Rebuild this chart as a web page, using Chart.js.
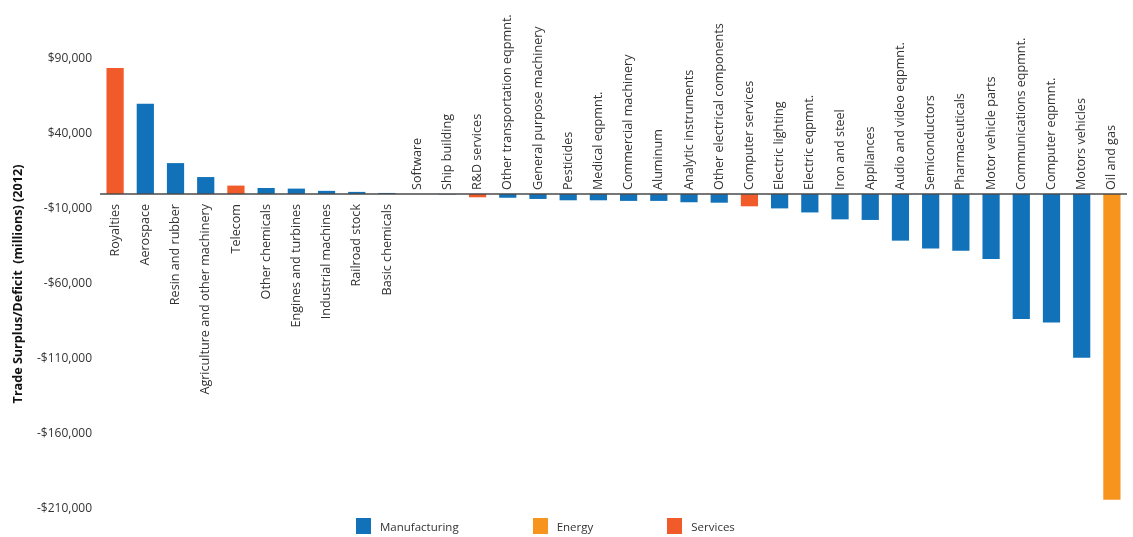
<!DOCTYPE html>
<html>
<head>
<meta charset="utf-8">
<script src="https://cdn.jsdelivr.net/npm/chart.js@4/dist/chart.umd.min.js"></script>
<style>
  html, body { margin: 0; padding: 0; background: #fff; }
  #wrap { position: relative; width: 1133px; height: 537px; }
  #legend { position: absolute; left: 356px; top: 518px; display: flex; gap: 74px;
            font: 11.5px 'Open Sans', sans-serif; color: #333; }
  #legend .item { display: flex; align-items: center; }
  #legend .box { width: 15px; height: 16px; margin-right: 9px; }
</style>
</head>
<body>
<div id="wrap">
  <canvas id="tradeChart"></canvas>
  <div id="legend"></div>
</div>
<script>
// Industries, 2012 trade balance in $ millions, and sector
var categories = [
  'Royalties', 'Aerospace', 'Resin and rubber', 'Agriculture and other machinery', 'Telecom',
  'Other chemicals', 'Engines and turbines', 'Industrial machines', 'Railroad stock', 'Basic chemicals',
  'Software', 'Ship building', 'R&D services', 'Other transportation eqpmnt.', 'General purpose machinery',
  'Pesticides', 'Medical eqpmnt.', 'Commercial machinery', 'Aluminum', 'Analytic instruments',
  'Other electrical components', 'Computer services', 'Electric lighting', 'Electric eqpmnt.', 'Iron and steel',
  'Appliances', 'Audio and video eqpmnt.', 'Semiconductors', 'Pharmaceuticals', 'Motor vehicle parts',
  'Communications eqpmnt.', 'Computer eqpmnt.', 'Motors vehicles', 'Oil and gas'
];
var values = [
  84000, 60200, 20600, 11300, 5600,
  4000, 3600, 2100, 1400, 700,
  0, -300, -2200, -2500, -3300,
  -4200, -4200, -4600, -4600, -5500,
  -5800, -8200, -9600, -12300, -16900,
  -17300, -31100, -36300, -37800, -43300,
  -83300, -85600, -109200, -203900
];
var sectors = [
  'Services', 'Manufacturing', 'Manufacturing', 'Manufacturing', 'Services',
  'Manufacturing', 'Manufacturing', 'Manufacturing', 'Manufacturing', 'Manufacturing',
  'Services', 'Manufacturing', 'Services', 'Manufacturing', 'Manufacturing',
  'Manufacturing', 'Manufacturing', 'Manufacturing', 'Manufacturing', 'Manufacturing',
  'Manufacturing', 'Services', 'Manufacturing', 'Manufacturing', 'Manufacturing',
  'Manufacturing', 'Manufacturing', 'Manufacturing', 'Manufacturing', 'Manufacturing',
  'Manufacturing', 'Manufacturing', 'Manufacturing', 'Energy'
];
var sectorNames = ['Manufacturing', 'Energy', 'Services'];
var sectorColors = ['#1172b9', '#f7941d', '#f15a29'];
var yTicks = [90000, 40000, -10000, -60000, -110000, -160000, -210000];

function money(v) {
  return (v < 0 ? '-' : '') + '$' + Math.abs(v).toLocaleString('en-US');
}

// zero line plus the rotated industry names sitting on it
var zeroLabels = {
  id: 'zeroLabels',
  afterDatasetsDraw: function (chart) {
    var ctx = chart.ctx, xs = chart.scales.x, ys = chart.scales.y, area = chart.chartArea;
    var y0 = ys.getPixelForValue(0);
    ctx.save();
    ctx.strokeStyle = '#4a4a4a';
    ctx.lineWidth = 1.5;
    ctx.beginPath();
    ctx.moveTo(area.left, y0);
    ctx.lineTo(area.right, y0);
    ctx.stroke();

    ctx.fillStyle = '#333';
    ctx.font = '12.6px "Open Sans", sans-serif';
    ctx.textBaseline = 'middle';
    categories.forEach(function (name, i) {
      var x = xs.getPixelForValue(i);
      ctx.save();
      if (values[i] > 0) {
        ctx.translate(x, y0 + 10);
        ctx.textAlign = 'right';
      } else {
        ctx.translate(x, y0 - 4);
        ctx.textAlign = 'left';
      }
      ctx.rotate(-Math.PI / 2);
      ctx.fillText(name, 0, 0);
      ctx.restore();
    });
    ctx.restore();
  }
};

var ctx = document.getElementById('tradeChart').getContext('2d');
var tradeChart = new Chart(ctx, {
  type: 'bar',
  data: {
    labels: categories,
    datasets: sectorNames.map(function (s, k) {
      return {
        label: s,
        data: values.map(function (v, i) { return sectors[i] === s ? v : null; }),
        backgroundColor: sectorColors[k],
        borderWidth: 0,
        categoryPercentage: 1,
        barPercentage: 0.57
      };
    })
  },
  options: {
    responsive: true,
    maintainAspectRatio: false,
    animation: false,
    layout: { padding: { top: 59, right: 6, bottom: 28, left: 0 } },
    plugins: {
      legend: { display: false },
      tooltip: { enabled: false }
    },
    scales: {
      x: { display: false, stacked: true },
      y: {
        stacked: true,
        min: -210000,
        max: 90000,
        afterBuildTicks: function (scale) {
          scale.ticks = yTicks.map(function (v) { return { value: v }; });
        },
        afterFit: function (scale) { scale.width = 100; },
        grid: { display: false, drawTicks: false },
        border: { display: false },
        ticks: {
          padding: 8,
          color: '#333',
          font: { family: 'Open Sans', size: 12 },
          callback: function (v) { return money(v); }
        },
        title: {
          display: true,
          text: 'Trade Surplus/Deficit  (millions) (2012)',
          color: '#111',
          font: { family: 'Open Sans', size: 12.6, weight: 'bold' },
          padding: { top: 11, bottom: 0 }
        }
      }
    }
  },
  plugins: [zeroLabels]
});

// legend under the plot, built from the datasets
var legendEl = document.getElementById('legend');
tradeChart.data.datasets.forEach(function (ds) {
  var item = document.createElement('div');
  item.className = 'item';
  var box = document.createElement('span');
  box.className = 'box';
  box.style.background = ds.backgroundColor;
  item.appendChild(box);
  item.appendChild(document.createTextNode(ds.label));
  legendEl.appendChild(item);
});
</script>
</body>
</html>
